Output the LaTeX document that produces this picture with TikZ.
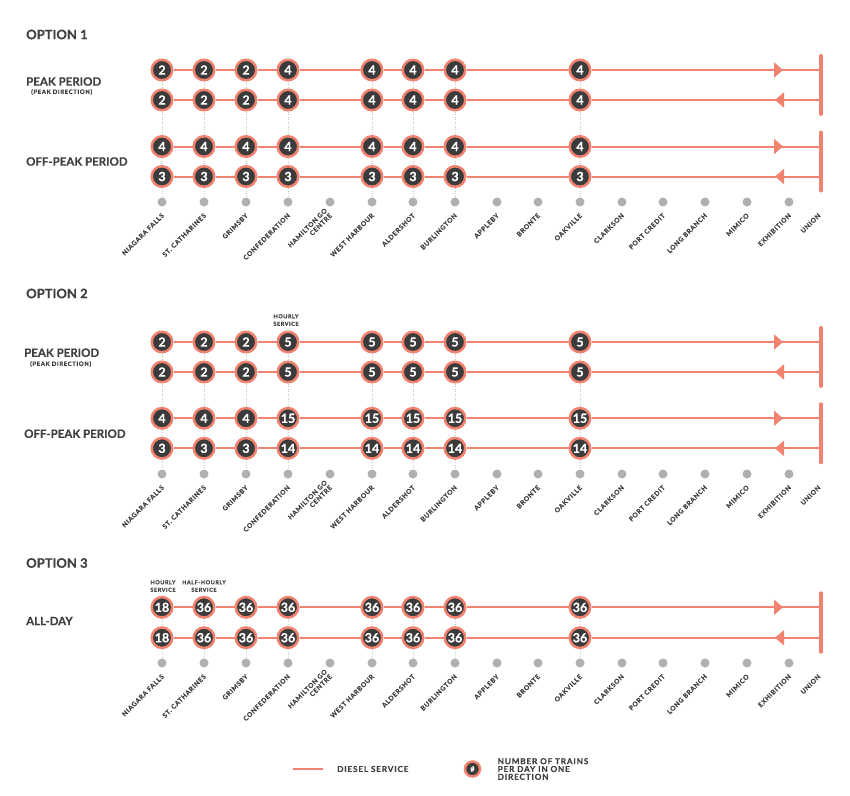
\documentclass[tikz,border=0pt]{standalone}
\usepackage{fontspec}
\setmainfont{Lato}[BoldFeatures={FakeBold=0.4}]
\newfontfamily\trackedfont{Lato}[LetterSpace=10, BoldFeatures={FakeBold=0.5}]
\usetikzlibrary{arrows.meta}
\usetikzlibrary{decorations.markings}
\definecolor{dsalmon}{rgb}{0.95, 0.51, 0.44}
\definecolor{dcore}{rgb}{0.23, 0.23, 0.23}
\definecolor{dtext}{rgb}{0.25, 0.25, 0.26}
\definecolor{dstop}{rgb}{0.69, 0.69, 0.70}
\definecolor{dguide}{rgb}{0.78, 0.78, 0.78}
\tikzset{diesel/.style = {draw=dsalmon, line width=2pt}}
\tikzset{toUnion/.style = {decoration={markings,
                                       mark=at position -38pt with {\arrow{Triangle[length=9pt,width=15pt]}}},
                           postaction={decorate}}}
\tikzset{fromUnion/.style = {decoration={markings,
                                         mark=at position -46pt with {\arrowreversed{Triangle[length=9pt,width=15pt]}}},
                             postaction={decorate}}}
\tikzset{unionbar/.style = {draw=dsalmon, line width=4pt, line cap=round}}
\tikzset{trains/.style = {circle, draw=dsalmon, fill=dcore, line width=2.5pt, minimum size=20.5pt,
                          inner sep=0pt, text=white, font=\bfseries\fontsize{12.5}{12.5}\selectfont}}
\tikzset{stop/.style = {circle, fill=dstop, minimum size=9pt, inner sep=0pt}}
\tikzset{guide/.style = {draw=dguide, dotted, line width=0.5pt}}
\tikzset{stname/.style = {text=dtext, font=\trackedfont\bfseries\fontsize{6.5}{7}\selectfont, rotate=45,
                          anchor=base east, align=right, inner sep=0pt}}
\tikzset{heading/.style = {text=dtext, font=\bfseries\fontsize{13}{13}\selectfont, anchor=west, inner sep=0pt}}
\tikzset{period/.style = {text=dtext, font=\bfseries\fontsize{11.5}{11.5}\selectfont, anchor=west, inner sep=0pt}}
\tikzset{note/.style = {text=dtext, font=\trackedfont\bfseries\fontsize{6}{6}\selectfont, anchor=west, inner sep=0pt}}
\tikzset{service/.style = {text=dtext, font=\trackedfont\bfseries\fontsize{5.5}{7.5}\selectfont, align=center,
                           anchor=south, inner sep=0pt}}
\tikzset{legtext/.style = {text=dtext, font=\trackedfont\bfseries\fontsize{8.2}{7.8}\selectfont, anchor=west,
                           align=left, inner sep=0pt}}

\begin{document}
\begin{tikzpicture}[x=1pt, y=-1pt]
    \useasboundingbox (0, 0) rectangle (850, 795);

    \node [heading] (opt1) at (26, 34.5) {OPTION 1};
    \node [period] (peak1) at (26, 81.5) {PEAK PERIOD};
    \node [note] (dir1) at (31, 92) {(PEAK DIRECTION)};
    \node [period] (off1) at (26, 161.5) {OFF-PEAK PERIOD};

    \node [heading] (opt2) at (26, 293.5) {OPTION 2};
    \node [period] (peak2) at (24, 352.7) {PEAK PERIOD};
    \node [note] (dir2) at (30, 364) {(PEAK DIRECTION)};
    \node [period] (off2) at (24, 433.7) {OFF-PEAK PERIOD};

    \node [heading] (opt3) at (26, 563) {OPTION 3};
    \node [period] (allday) at (26, 621) {ALL-DAY};

    \node [service] (hourly2) at (286, 326) {HOURLY\\SERVICE};
    \node [service] (hourly3) at (163, 592) {HOURLY\\SERVICE};
    \node [service] (halfhourly3) at (204, 592) {HALF-HOURLY\\SERVICE};

    % stations
    \foreach \o/\dy in {1/202, 2/474, 3/663} {
      \foreach \sx/\sname [count=\i] in {162/NIAGARA FALLS, 204/ST. CATHARINES, 246/GRIMSBY,
          288/CONFEDERATION, 330/{HAMILTON GO\\CENTRE}, 372/WEST HARBOUR, 413/ALDERSHOT,
          455/BURLINGTON, 497/APPLEBY, 538/BRONTE, 580/OAKVILLE, 622/CLARKSON, 663/PORT CREDIT,
          705/LONG BRANCH, 747/MIMICO, 789/EXHIBITION} {
        \node [stop] (o\o d\i) at (\sx, \dy) {};
        \node [stname] (o\o n\i) at (\sx+2.5, \dy+14) {\sname};
      }
      \node [stname] (o\o n17) at (821, \dy+14) {UNION};
    }

    % service rows
    \foreach \o/\r/\ry/\dir/\vals in {
        1/1/70/toUnion/{2,2,2,4,4,4,4,4},
        1/2/100/fromUnion/{2,2,2,4,4,4,4,4},
        1/3/146.5/toUnion/{4,4,4,4,4,4,4,4},
        1/4/176.5/fromUnion/{3,3,3,3,3,3,3,3},
        2/1/342/toUnion/{2,2,2,5,5,5,5,5},
        2/2/372/fromUnion/{2,2,2,5,5,5,5,5},
        2/3/418.3/toUnion/{4,4,4,15,15,15,15,15},
        2/4/448.3/fromUnion/{3,3,3,14,14,14,14,14},
        3/1/607.3/toUnion/{18,36,36,36,36,36,36,36},
        3/2/637.7/fromUnion/{18,36,36,36,36,36,36,36}} {
      \foreach \v [count=\k] in \vals {
        \pgfmathsetmacro\cx{{162,204,246,288,372,413,455,580}[\k-1]}
        \node [trains] (o\o r\r c\k) at (\cx, \ry) {\v};
      }
      \coordinate (o\o r\r u) at (821, \ry);
      \foreach \k [evaluate=\k as \kn using int(\k+1)] in {1,...,7}
        \draw [diesel] (o\o r\r c\k) -- (o\o r\r c\kn);
      \draw [diesel, \dir] (o\o r\r c8) -- (o\o r\r u);
    }

    \draw [unionbar] ([yshift=14pt]o1r1u) -- ([yshift=-14pt]o1r2u);
    \draw [unionbar] ([yshift=14pt]o1r3u) -- ([yshift=-14pt]o1r4u);
    \draw [unionbar] ([yshift=14pt]o2r1u) -- ([yshift=-14pt]o2r2u);
    \draw [unionbar] ([yshift=14pt]o2r3u) -- ([yshift=-14pt]o2r4u);
    \draw [unionbar] ([yshift=14pt]o3r1u) -- ([yshift=-14pt]o3r2u);

    \foreach \k/\s in {1/1, 2/2, 3/3, 4/4, 5/6, 6/7, 7/8, 8/11} {
      \draw [guide] (o1r1c\k) -- (o1r2c\k) -- (o1r3c\k) -- (o1r4c\k) -- (o1d\s);
      \draw [guide] (o2r1c\k) -- (o2r2c\k) -- (o2r3c\k) -- (o2r4c\k) -- (o2d\s);
      \draw [guide] (o3r1c\k) -- (o3r2c\k) -- (o3d\s);
    }

    % legend
    \coordinate (legw) at (293, 769);
    \coordinate (lege) at (323, 769);
    \draw [diesel] (legw) -- (lege);
    \node [legtext] (legdiesel) at (337, 769) {DIESEL SERVICE};
    \node [trains, minimum size=15pt, font=\bfseries\fontsize{7}{7}\selectfont] (legtrains) at (472.5, 769) {\#};
    \node [legtext] (legnum) at (497.5, 769) {NUMBER OF TRAINS\\PER DAY IN ONE\\DIRECTION};
  \end{tikzpicture}
\end{document}
